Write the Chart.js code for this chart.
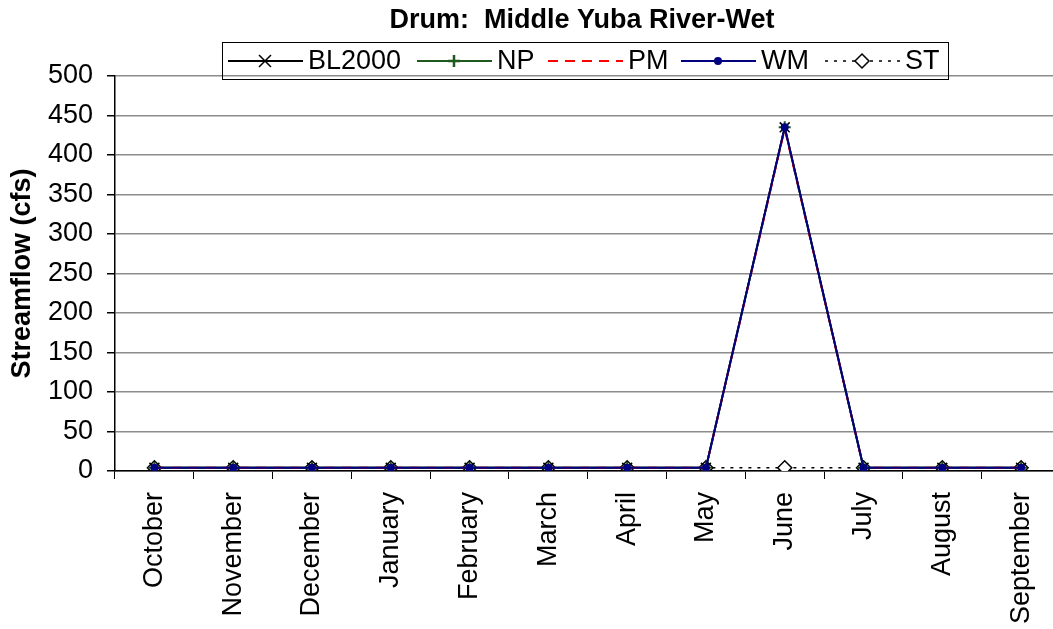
<!DOCTYPE html>
<html>
<head>
<meta charset="utf-8">
<script src="https://cdn.jsdelivr.net/npm/chart.js@4.4.0/dist/chart.umd.min.js"></script>
<style>
  html, body { margin: 0; padding: 0; background: #fff; overflow: hidden; }
  #wrap { width: 1053px; height: 629px; overflow: hidden; position: relative; }
  #chart { position: absolute; left: 0; top: 0; }
</style>
</head>
<body>
<div id="wrap"><canvas id="chart" width="1069" height="629"></canvas></div>
<script>
const months = ['October', 'November', 'December', 'January', 'February', 'March',
  'April', 'May', 'June', 'July', 'August', 'September'];
const bl2000 = [4, 4, 4, 4, 4, 4, 4, 4, 435, 4, 4, 4];
const np = [4, 4, 4, 4, 4, 4, 4, 4, 435, 4, 4, 4];
const pm = [4, 4, 4, 4, 4, 4, 4, 4, 433, 4, 4, 4];
const wm = [4, 4, 4, 4, 4, 4, 4, 4, 435, 4, 4, 4];
const st = [4, 4, 4, 4, 4, 4, 4, 4, 4, 4, 4, 4];

const FONT = "'Liberation Sans', Arial, sans-serif";

// legend drawn by hand: line with marker in the middle, Excel style
const legendItems = [
  { label: 'BL2000', color: '#000', dash: [], marker: 'x', x: 228 },
  { label: 'NP', color: '#1e5a1e', dash: [], marker: '+', x: 417 },
  { label: 'PM', color: '#ff0000', dash: [10, 7], marker: null, x: 548 },
  { label: 'WM', color: '#000080', dash: [], marker: 'dot', x: 681 },
  { label: 'ST', color: '#000', dash: [3, 6], marker: 'diamond', x: 825 },
];

const headerPlugin = {
  id: 'header',
  afterDraw(chart) {
    const ctx = chart.ctx;
    ctx.save();
    ctx.fillStyle = '#000';
    ctx.font = 'bold 27px ' + FONT;
    ctx.textAlign = 'center';
    ctx.textBaseline = 'middle';
    ctx.fillText('Drum:  Middle Yuba River-Wet', 582, 21);

    ctx.strokeStyle = '#000';
    ctx.lineWidth = 1;
    ctx.strokeRect(222.5, 42.5, 726, 37);

    const y = 61;
    ctx.font = '27px ' + FONT;
    ctx.textAlign = 'left';
    legendItems.forEach((it) => {
      ctx.beginPath();
      ctx.setLineDash(it.dash);
      ctx.strokeStyle = it.color;
      ctx.lineWidth = it.label === 'ST' ? 1.5 : 2;
      ctx.moveTo(it.x, y);
      ctx.lineTo(it.x + 75, y);
      ctx.stroke();
      ctx.setLineDash([]);
      const mx = it.x + 37;
      ctx.lineWidth = 1.5;
      if (it.marker === 'x') {
        ctx.beginPath();
        ctx.moveTo(mx - 6, y - 6); ctx.lineTo(mx + 6, y + 6);
        ctx.moveTo(mx + 6, y - 6); ctx.lineTo(mx - 6, y + 6);
        ctx.stroke();
      } else if (it.marker === '+') {
        ctx.lineWidth = 2.5;
        ctx.beginPath();
        ctx.moveTo(mx - 6, y); ctx.lineTo(mx + 6, y);
        ctx.moveTo(mx, y - 6); ctx.lineTo(mx, y + 6);
        ctx.stroke();
      } else if (it.marker === 'dot') {
        ctx.beginPath();
        ctx.fillStyle = it.color;
        ctx.arc(mx, y, 4, 0, Math.PI * 2);
        ctx.fill();
      } else if (it.marker === 'diamond') {
        ctx.beginPath();
        ctx.fillStyle = '#fff';
        ctx.moveTo(mx, y - 7); ctx.lineTo(mx + 7, y);
        ctx.lineTo(mx, y + 7); ctx.lineTo(mx - 7, y);
        ctx.closePath();
        ctx.fill();
        ctx.stroke();
      }
      ctx.fillStyle = '#000';
      ctx.fillText(it.label, it.x + 80, y + 1);
    });
    ctx.restore();
  },
};

new Chart(document.getElementById('chart'), {
  type: 'line',
  data: {
    labels: months,
    datasets: [
      {
        label: 'BL2000', data: bl2000, borderColor: '#000', backgroundColor: '#000',
        borderWidth: 2, pointStyle: 'crossRot', pointRadius: 7, pointBorderWidth: 1.5, order: 4,
      },
      {
        label: 'NP', data: np, borderColor: '#1e5a1e', backgroundColor: '#1e5a1e',
        borderWidth: 2, pointStyle: 'cross', pointRadius: 6, pointBorderWidth: 2, order: 3,
      },
      {
        label: 'PM', data: pm, borderColor: '#ff0000', borderDash: [10, 7],
        borderWidth: 2, pointRadius: 0, order: 2,
      },
      {
        label: 'WM', data: wm, borderColor: '#000080', backgroundColor: '#000080',
        borderWidth: 2, pointStyle: 'circle', pointRadius: 4, pointBorderWidth: 0, order: 1,
      },
      {
        label: 'ST', data: st, borderColor: '#000', backgroundColor: '#fff', borderDash: [3, 6],
        borderWidth: 1.5, pointStyle: 'rectRot', pointRadius: 7, pointBorderWidth: 1.5,
        pointBorderColor: '#000', order: 5,
      },
    ],
  },
  options: {
    responsive: false,
    animation: false,
    layout: { padding: { top: 76, left: 0, right: 0, bottom: 0 } },
    plugins: {
      legend: { display: false },
      title: { display: false },
      tooltip: { enabled: false },
    },
    scales: {
      x: {
        offset: true,
        grid: {
          offset: true, drawOnChartArea: false, color: '#000', tickLength: 8, tickWidth: 1,
        },
        border: { color: '#000', width: 1.5 },
        ticks: {
          color: '#000', font: { family: FONT, size: 27 },
          minRotation: 90, maxRotation: 90, autoSkip: false, padding: 13,
        },
        afterFit(scale) {
          scale.height = 158;
          scale.paddingLeft = 0;
          scale.paddingRight = 0;
        },
      },
      y: {
        min: 0, max: 500,
        grid: { color: '#8c8c8c', tickColor: '#000', tickLength: 8, lineWidth: 1.5 },
        border: { color: '#000', width: 1.5 },
        ticks: {
          stepSize: 50, color: '#000', font: { family: FONT, size: 27 }, padding: 14,
        },
        title: {
          display: true, text: 'Streamflow (cfs)', color: '#000',
          font: { family: FONT, size: 27, weight: 'bold' }, padding: { top: 6, bottom: 0 },
        },
        afterFit(scale) { scale.width = 115; },
      },
    },
  },
  plugins: [headerPlugin],
});
</script>
</body>
</html>
